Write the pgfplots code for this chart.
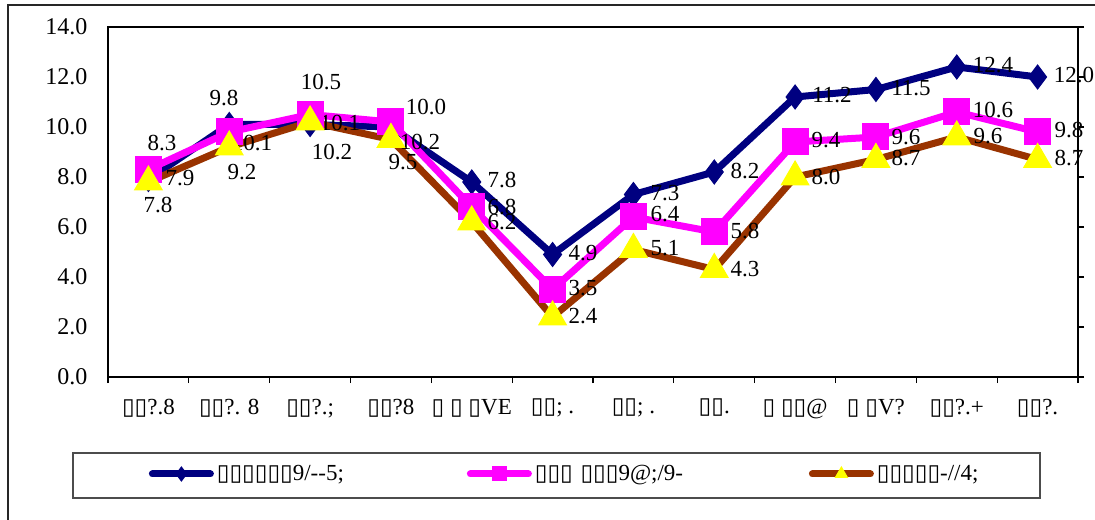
\documentclass[border=0pt]{standalone}
\usepackage{fontspec}
\setmainfont{Liberation Serif}
\newfontfamily\dv{DejaVu Sans}
\usepackage{pgfplots}
\pgfplotsset{compat=1.18}
\newcommand\B{{\dv\char"25AF}}
\definecolor{cnavy}{HTML}{000080}
\definecolor{cpink}{HTML}{FF00FF}
\definecolor{cbrown}{HTML}{993300}
\definecolor{cyel}{HTML}{FFFF00}
\newcommand\lf{\fontsize{11.5}{13}\selectfont}
\newcommand\tf{\fontsize{12}{14}\selectfont}
\begin{document}
\begin{tikzpicture}
\useasboundingbox (0,0) rectangle (547.5pt,259.5pt);
\draw[line width=0.6pt, black!85] (4pt,-20pt) -- (4pt,257pt) -- (570pt,257pt);
\draw[line width=0.6pt, black!70] (36.5pt,10.5pt) rectangle (520pt,33pt);
\begin{axis}[
  at={(54pt,71pt)}, anchor=south west,
  scale only axis, width=485pt, height=175pt,
  xmin=-0.5, xmax=11.5, ymin=0, ymax=14,
  axis line style={line width=0.6pt},
  tick style={line width=0.6pt, black},
  tick align=outside,
  major tick length=3pt,
  xtick={-0.5,0.5,...,11.5}, xticklabels={},
  xtick pos=bottom,
  extra x ticks={0,1,2,3,4,5,6,7,8,9,10,11},
  extra x tick labels={\B\B?.8, \B\B?. 8, \B\B?.;, \B\B?8, \B\ \B\ \B VE, \B\B; ., \B\B; ., \B\B., \B\ \B\B@, \B\ \B V?, \B\B?.+, \B\B?.},
  extra x tick style={major tick length=0pt, xticklabel style={font=\lf, yshift=-7.5pt}},
  ytick={0,2,...,14},
  ytick pos=right, yticklabel pos=left,
  yticklabel style={/pgf/number format/.cd, fixed, fixed zerofill, precision=1, assume math mode=true, /tikz/.cd, font=\tf, xshift=-3.8pt},
  clip=false,
  legend columns=3,
  legend cell align=left,
  legend style={draw=none, fill=none, inner sep=0pt, at={(0.04175,-0.2771)}, anchor=west,
    nodes={inner xsep=1.5pt, text width=62pt, font=\lf},
    /tikz/column 2/.style={column sep=61.5pt},
    /tikz/column 4/.style={column sep=73.5pt}},
  legend image code/.code={\draw[mark repeat=2,mark phase=2,#1, line cap=round, mark size=3.5pt] plot coordinates {(0pt,0pt) (14.5pt,0pt) (29pt,0pt)};},
]
\addplot[color=cnavy, line width=3.5pt, mark=diamond*, mark size=6pt, mark options={solid, fill=cnavy, draw=cnavy, line width=0.5pt}]
  coordinates {(0,7.9) (1,10.1) (2,10.1) (3,10.0) (4,7.8) (5,4.9) (6,7.3) (7,8.2) (8,11.2) (9,11.5) (10,12.4) (11,12.0)};
\addlegendentry{\mbox{\B\B\B\B\B\B 9/{-}{-}5;}}
\addplot[color=cpink, line width=3.5pt, mark=square*, mark size=6.5pt, mark options={solid, fill=cpink, draw=cpink, line width=0.5pt}]
  coordinates {(0,8.3) (1,9.8) (2,10.5) (3,10.2) (4,6.8) (5,3.5) (6,6.4) (7,5.8) (8,9.4) (9,9.6) (10,10.6) (11,9.8)};
\addlegendentry{\mbox{\B\B\B\ \B\B\B 9@;/9-}}
\addplot[color=cbrown, line width=3.5pt, mark=triangle*, mark size=8pt, mark options={solid, fill=cyel, draw=cyel, line width=0.5pt}]
  coordinates {(0,7.8) (1,9.2) (2,10.2) (3,9.5) (4,6.2) (5,2.4) (6,5.1) (7,4.3) (8,8.0) (9,8.7) (10,9.6) (11,8.7)};
\addlegendentry{\mbox{\B\B\B\B\B -//4;}}
\begin{scope}[every node/.style={font=\lf, inner sep=0pt}]
\node at (axis cs:0.168,9.36) {8.3};
\node at (axis cs:0.391,7.96) {7.9};
\node at (axis cs:0.119,6.88) {7.8};
\node at (axis cs:0.935,11.16) {9.8};
\node at (axis cs:1.281,9.36) {10.1};
\node at (axis cs:1.158,8.2) {9.2};
\node at (axis cs:2.135,11.8) {10.5};
\node at (axis cs:2.370,10.16) {10.1};
\node at (axis cs:2.271,9.0) {10.2};
\node at (axis cs:3.434,10.8) {10.0};
\node at (axis cs:3.360,9.4) {10.2};
\node at (axis cs:3.150,8.6) {9.5};
\node at (axis cs:4.374,7.88) {7.8};
\node at (axis cs:4.374,6.8) {6.8};
\node at (axis cs:4.374,6.2) {6.2};
\node at (axis cs:5.376,4.96) {4.9};
\node at (axis cs:5.376,3.56) {3.5};
\node at (axis cs:5.376,2.44) {2.4};
\node at (axis cs:6.391,7.36) {7.3};
\node at (axis cs:6.391,6.52) {6.4};
\node at (axis cs:6.391,5.16) {5.1};
\node at (axis cs:7.380,8.24) {8.2};
\node at (axis cs:7.380,5.84) {5.8};
\node at (axis cs:7.380,4.32) {4.3};
\node at (axis cs:8.457,11.28) {11.2};
\node at (axis cs:8.383,9.48) {9.4};
\node at (axis cs:8.383,8.0) {8.0};
\node at (axis cs:9.434,11.56) {11.5};
\node at (axis cs:9.372,9.6) {9.6};
\node at (axis cs:9.372,8.76) {8.7};
\node at (axis cs:10.449,12.48) {12.4};
\node at (axis cs:10.449,10.68) {10.6};
\node at (axis cs:10.387,9.64) {9.6};
\node at (axis cs:11.451,12.08) {12.0};
\node at (axis cs:11.389,9.88) {9.8};
\node at (axis cs:11.389,8.76) {8.7};
\end{scope}
\end{axis}
\end{tikzpicture}
\end{document}
